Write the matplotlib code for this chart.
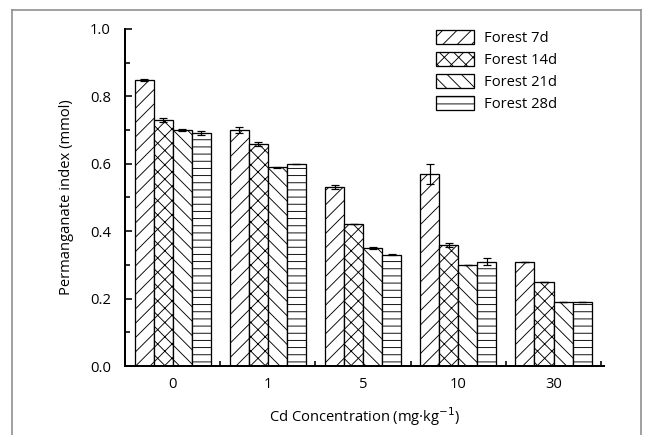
import numpy as np
import matplotlib
matplotlib.use("Agg")
import matplotlib.pyplot as plt
from matplotlib.lines import Line2D

# a lower dpi makes the hatch spacing closer to the reference (~7 px);
# sizes below are given in pixels and converted to points
DPI = 86
W, H = 650, 435


def pt(px):
    return px * 72.0 / DPI


plt.rcParams['font.family'] = ['Open Sans', 'DejaVu Sans']
plt.rcParams['hatch.linewidth'] = pt(0.9)
plt.rcParams['hatch.color'] = 'black'

# data
concentrations = ["0", "1", "5", "10", "30"]
series_names = ["Forest 7d", "Forest 14d", "Forest 21d", "Forest 28d"]
forest_7d = [0.85, 0.70, 0.53, 0.57, 0.31]
forest_14d = [0.73, 0.66, 0.42, 0.36, 0.25]
forest_21d = [0.70, 0.59, 0.35, 0.30, 0.19]
forest_28d = [0.69, 0.60, 0.33, 0.31, 0.19]
err_7d = [0.003, 0.010, 0.006, 0.030, 0.0]
err_14d = [0.006, 0.006, 0.0, 0.006, 0.0]
err_21d = [0.002, 0.001, 0.002, 0.0, 0.001]
err_28d = [0.006, 0.0, 0.002, 0.010, 0.001]

values = [forest_7d, forest_14d, forest_21d, forest_28d]
errors = [err_7d, err_14d, err_21d, err_28d]
hatches = ["//", "xx", "\\\\", "--"]

fs = pt(14.8)

fig = plt.figure(figsize=(W / DPI, H / DPI), dpi=DPI)
ax = fig.add_axes([125 / W, 1 - 366 / H, (604 - 125) / W, (366 - 29) / H])

x = np.arange(len(concentrations))
width = 0.2
for i, (vals, errs) in enumerate(zip(values, errors)):
    pos = x + (i - 1.5) * width
    ax.bar(pos, vals, width, color="white", edgecolor="black", linewidth=pt(1.3),
           hatch=hatches[i], label=series_names[i], zorder=2)
    ax.errorbar(pos, vals, yerr=errs, fmt="none", ecolor="black",
                elinewidth=pt(1.2), capsize=pt(4), capthick=pt(1.2), zorder=3)

ax.set_xlim(-0.5, 4.53)
ax.set_ylim(0, 1.0)

# labels at the group centres, tick marks between groups
ax.set_xticks(x)
ax.set_xticklabels(concentrations)
ax.set_xticks(np.arange(0.5, 5, 1.0), minor=True)
ax.tick_params(axis="x", which="major", length=0, pad=pt(11), labelsize=fs)
ax.tick_params(axis="x", which="minor", direction="in", length=pt(5), width=pt(1.6))

ax.set_yticks(np.arange(0, 1.01, 0.2))
ax.set_yticklabels([f"{v:.1f}" for v in np.arange(0, 1.01, 0.2)])
ax.set_yticks(np.arange(0.1, 1.0, 0.2), minor=True)
ax.tick_params(axis="y", which="major", direction="in", length=pt(7), width=pt(1.6),
               pad=pt(14), labelsize=fs)
ax.tick_params(axis="y", which="minor", direction="in", length=pt(4.5), width=pt(1.6))

for side in ["top", "right"]:
    ax.spines[side].set_visible(False)
for side in ["left", "bottom"]:
    ax.spines[side].set_linewidth(pt(2))

ax.set_ylabel("Permanganate index (mmol)", fontsize=fs)
ax.yaxis.set_label_coords(-0.106, 0.5)
ax.set_xlabel("Cd Concentration (mg·kg$^{-1}$)", fontsize=fs)
ax.xaxis.set_label_coords(0.5, -0.118)

ax.legend(loc="upper left", bbox_to_anchor=(436 / W, 1 - 30 / H),
          bbox_transform=fig.transFigure, frameon=False, fontsize=fs,
          handlelength=2.55, handleheight=1.05, labelspacing=0.42,
          handletextpad=0.7, borderpad=0, borderaxespad=0)

# grey frame around the figure
frame_color = "#8c8c8c"
top = 1 - 10 / H
for xs, ys in [([12 / W, 12 / W], [0, top]),
               ([641 / W, 641 / W], [0, top]),
               ([12 / W, 641 / W], [top, top])]:
    fig.add_artist(Line2D(xs, ys, transform=fig.transFigure,
                          color=frame_color, lw=pt(1.6)))

fig.savefig("out.png", dpi=DPI)
